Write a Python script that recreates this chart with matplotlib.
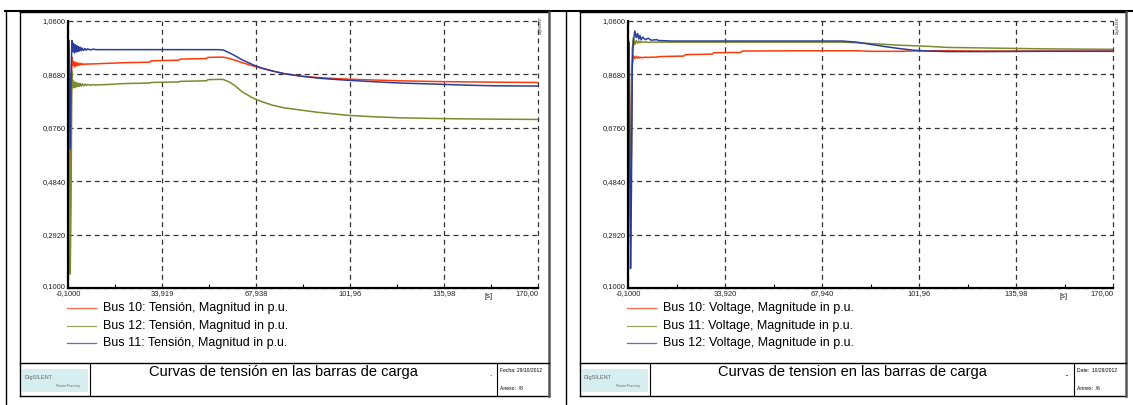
import matplotlib
matplotlib.use("Agg")
import matplotlib.pyplot as plt
from matplotlib.lines import Line2D
from matplotlib.patches import Rectangle
import numpy as np

plt.rcParams['font.family'] = ['Liberation Sans', 'DejaVu Sans']

# ---- left chart (Spanish labels) ----
t_left = [-0.1, 0.3, 0.7, 1.0, 1.3, 1.6, 1.9, 2.2, 2.5, 2.8,
          3.1, 3.4, 3.7, 4.0, 4.3, 4.7, 5.0, 5.5, 6.0, 6.5,
          7.0, 8.0, 9.0, 10.0, 12.0, 15.0, 20.0, 25.0, 29.5, 30.0,
          35.0, 40.0, 40.5, 45.0, 50.0, 50.5, 54.0, 56.0, 58.0, 60.0,
          63.0, 67.0, 70.0, 74.0, 78.0, 84.0, 90.0, 95.0, 101.0, 110.0,
          120.0, 130.0, 136.0, 145.0, 155.0, 170.0]
bus10_left = [0.934, 0.934, 0.44, 0.70, 0.93, 0.90, 0.915, 0.895, 0.912, 0.898,
              0.910, 0.900, 0.909, 0.901, 0.908, 0.902, 0.907, 0.903, 0.906, 0.904,
              0.906, 0.905, 0.906, 0.906, 0.907, 0.908, 0.910, 0.911, 0.912, 0.917,
              0.918, 0.919, 0.923, 0.924, 0.925, 0.929, 0.930, 0.930, 0.926, 0.920,
              0.910, 0.898, 0.890, 0.880, 0.871, 0.862, 0.857, 0.854, 0.851, 0.848,
              0.845, 0.843, 0.842, 0.841, 0.840, 0.839]
bus12_left = [0.985, 0.985, 0.15, 0.40, 0.88, 0.82, 0.845, 0.82, 0.84, 0.822,
              0.838, 0.824, 0.836, 0.825, 0.835, 0.826, 0.834, 0.827, 0.833, 0.828,
              0.832, 0.829, 0.831, 0.830, 0.831, 0.832, 0.835, 0.836, 0.837, 0.839,
              0.840, 0.841, 0.843, 0.844, 0.845, 0.849, 0.850, 0.850, 0.842, 0.830,
              0.805, 0.782, 0.770, 0.757, 0.748, 0.740, 0.732, 0.727, 0.721, 0.716,
              0.712, 0.710, 0.709, 0.708, 0.707, 0.706]
bus11_left = [0.990, 0.990, 0.60, 0.85, 0.99, 0.95, 0.98, 0.945, 0.975, 0.948,
              0.972, 0.950, 0.968, 0.952, 0.966, 0.953, 0.963, 0.954, 0.961, 0.955,
              0.960, 0.956, 0.959, 0.957, 0.957, 0.957, 0.957, 0.957, 0.957, 0.957,
              0.957, 0.957, 0.957, 0.957, 0.957, 0.957, 0.957, 0.956, 0.947, 0.937,
              0.920, 0.902, 0.891, 0.880, 0.871, 0.862, 0.855, 0.851, 0.847, 0.842,
              0.837, 0.834, 0.832, 0.829, 0.827, 0.826]

# ---- right chart (English labels) ----
t_right = [-0.1, 0.3, 0.8, 1.1, 1.4, 1.8, 2.3, 2.8, 3.3, 3.7,
           4.1, 4.5, 5.0, 6.0, 7.0, 8.0, 10.0, 10.5, 15.0, 19.5,
           20.0, 29.5, 30.0, 39.5, 40.0, 60.0, 75.0, 80.0, 85.0, 90.0,
           95.0, 100.0, 105.0, 112.0, 125.0, 145.0, 170.0]
bus10_right = [0.932, 0.932, 0.35, 0.60, 0.90, 0.935, 0.925, 0.933, 0.926, 0.931,
               0.927, 0.930, 0.928, 0.930, 0.929, 0.930, 0.930, 0.932, 0.933, 0.934,
               0.939, 0.941, 0.946, 0.947, 0.952, 0.953, 0.953, 0.953, 0.951, 0.951,
               0.951, 0.952, 0.953, 0.953, 0.952, 0.952, 0.952]
bus11_right = [0.985, 0.985, 0.28, 0.65, 0.96, 1.00, 0.975, 0.99, 0.98, 0.988,
               0.982, 0.986, 0.983, 0.985, 0.983, 0.984, 0.984, 0.984, 0.984, 0.984,
               0.984, 0.984, 0.984, 0.984, 0.984, 0.984, 0.984, 0.982, 0.979, 0.976,
               0.973, 0.971, 0.969, 0.965, 0.963, 0.960, 0.958]
bus12_right = [0.982, 0.982, 0.17, 0.45, 0.90, 0.99, 1.024, 1.00, 1.015, 0.995,
               1.008, 0.992, 1.002, 0.993, 0.998, 0.991, 0.993, 0.990, 0.988, 0.988,
               0.988, 0.988, 0.988, 0.988, 0.988, 0.988, 0.988, 0.984, 0.976, 0.968,
               0.961, 0.955, 0.952, 0.950, 0.950, 0.951, 0.951]

yticks = [0.1, 0.292, 0.484, 0.676, 0.868, 1.06]
ytick_labels = ['0,1000', '0,2920', '0,4840', '0,6760', '0,8680', '1,0600']
xticks_left = [-0.1, 33.919, 67.938, 101.96, 135.98, 170.0]
xlabels_left = ['-0,1000', '33,919', '67,938', '101,96', '135,98', '170,00']
xticks_right = [-0.1, 33.92, 67.94, 101.96, 135.98, 170.0]
xlabels_right = ['-0,1000', '33,920', '67,940', '101,96', '135,98', '170,00']

RED = '#ff3a0a'
GREEN = '#7d8a2c'
BLUE = '#2a3d9c'

W, H = 1133, 405
fig = plt.figure(figsize=(W / 100, H / 100), dpi=100)


def fx(px):
    return px / W


def fy(py):
    return 1 - py / H


def hline(x0, x1, y, lw=1.0, color='k', alpha=1.0):
    fig.add_artist(Line2D([fx(x0), fx(x1)], [fy(y), fy(y)], transform=fig.transFigure,
                          color=color, lw=lw, alpha=alpha))


def vline(x, y0, y1, lw=1.0, color='k'):
    fig.add_artist(Line2D([fx(x), fx(x)], [fy(y0), fy(y1)], transform=fig.transFigure,
                          color=color, lw=lw))


# outer sheet lines
hline(5, 1133, 11, lw=1.5)
vline(6, 11, 405, lw=1.0)
vline(566, 11, 405, lw=1.0)


def panel(left, right, ax_l, ax_r, t, series, xticks, xlabels, title, dots, date_txt, annex_txt):
    # frame and title block
    hline(left, right, 12, lw=1.0)
    hline(left, right, 396, lw=1.0)
    vline(left, 12, 396, lw=1.0)
    vline(right, 12, 396, lw=1.8, color='#555555')
    hline(left, right, 363, lw=1.0)
    logo_r = left + 70
    vline(logo_r, 363, 396, lw=0.8)
    date_l = right - 52
    vline(date_l, 363, 396, lw=0.8)
    fig.add_artist(Rectangle((fx(left + 2), fy(392)), fx(66), 23 / H, transform=fig.transFigure,
                             facecolor='#d6eef0', edgecolor='none'))
    fig.text(fx(left + 4), fy(377), 'DIgSILENT', fontsize=4, color='#666666', va='center')
    fig.text(fx(left + 36), fy(386), 'PowerFactory', fontsize=3, color='#777777', va='center')
    fig.text(fx((logo_r + date_l) / 2 - 10), fy(372), title, fontsize=10.5, ha='center', va='center')
    fig.text(fx(date_l - 7), fy(374), dots, fontsize=6, ha='center', va='center')
    fig.text(fx(date_l + 3), fy(370), date_txt, fontsize=3.6, va='center')
    fig.text(fx(date_l + 3), fy(388), annex_txt, fontsize=3.6, va='center')
    fig.text(fx(right - 8), fy(25), 'DIgSILENT', fontsize=2.6, rotation=90, ha='center', va='center',
             color='#333333')

    ax = fig.add_axes([fx(ax_l), fy(288), (ax_r - ax_l) / W, (288 - 21) / H])
    for name, vals, col in series:
        ax.plot(t, vals, color=col, lw=1.1)
    ax.set_xlim(-0.1, 170)
    ax.set_ylim(0.1, 1.06)
    ax.set_yticks(yticks)
    ax.set_yticklabels(ytick_labels, fontsize=5.5, color='#222222')
    ax.get_yticklabels()[0].set_verticalalignment('baseline')
    ax.set_xticks(xticks)
    ax.set_xticklabels(xlabels, fontsize=5.5, color='#222222')
    ax.get_xticklabels()[-1].set_horizontalalignment('right')
    ax.set_xticks(np.convolve(xticks, [0.5, 0.5], mode='valid'), minor=True)
    ax.tick_params(axis='both', which='major', length=0, pad=1.5)
    ax.tick_params(axis='x', which='minor', direction='in', length=3, width=0.8)
    ax.grid(True, which='major', ls=(0, (4, 3)), color='#333333', lw=0.9)
    for g in ax.get_xgridlines() + ax.get_ygridlines():
        g.set_clip_on(False)
    for s in ['top', 'right']:
        ax.spines[s].set_visible(False)
    for s in ['left', 'bottom']:
        ax.spines[s].set_linewidth(1.6)
    ax.set_facecolor('none')
    fig.text(fx(ax_r - 49), fy(296), '[s]', fontsize=5.5, ha='center', va='center', color='#222222')

    # legend below the axes
    for i, (name, vals, col) in enumerate(series):
        y = 308 + i * 17.5
        hline(ax_l - 1, ax_l + 28, y, lw=0.9, color=col, alpha=0.75)
        fig.text(fx(ax_l + 35), fy(y), name, fontsize=9, va='center')
    return ax


panel(20, 549, 68, 538, t_left,
      [('Bus 10: Tensión, Magnitud in p.u.', bus10_left, RED),
       ('Bus 12: Tensión, Magnitud in p.u.', bus12_left, GREEN),
       ('Bus 11: Tensión, Magnitud in p.u.', bus11_left, BLUE)],
      xticks_left, xlabels_left,
      'Curvas de tensión en las barras de carga', '.', 'Fecha: 29/10/2012', 'Anexo:  /8')

panel(580, 1126, 628, 1113, t_right,
      [('Bus 10: Voltage, Magnitude in p.u.', bus10_right, RED),
       ('Bus 11: Voltage, Magnitude in p.u.', bus11_right, GREEN),
       ('Bus 12: Voltage, Magnitude in p.u.', bus12_right, BLUE)],
      xticks_right, xlabels_right,
      'Curvas de tension en las barras de carga', '..', 'Date:  10/29/2012', 'Annex:  /6')

fig.savefig('out.png', dpi=100)
